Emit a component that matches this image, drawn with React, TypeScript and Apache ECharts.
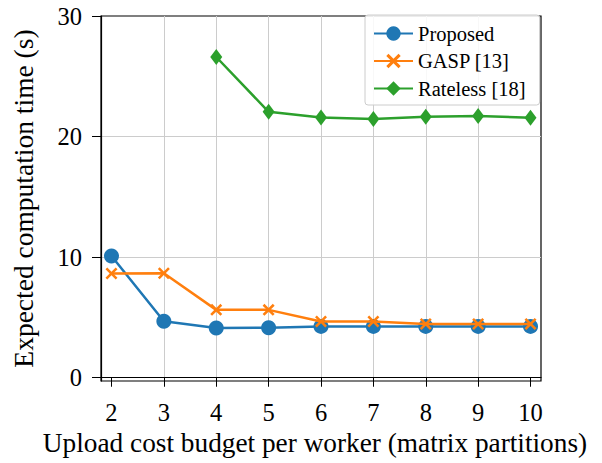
import React, { useEffect, useRef } from "react";
import * as echarts from "echarts";

const xValues = [2, 3, 4, 5, 6, 7, 8, 9, 10];
const proposedValues = [10.1, 4.68, 4.13, 4.15, 4.26, 4.26, 4.26, 4.26, 4.26];
const gaspValues = [8.64, 8.66, 5.63, 5.63, 4.66, 4.66, 4.46, 4.46, 4.46];
const ratelessX = [4, 5, 6, 7, 8, 9, 10];
const ratelessValues = [26.6, 22.05, 21.58, 21.45, 21.64, 21.7, 21.56];
const xTicks = [2, 3, 4, 5, 6, 7, 8, 9, 10];
const yTicks = [0, 10, 20, 30];
const seriesNames = ["Proposed", "GASP [13]", "Rateless [18]"];

const FONT = "'Liberation Serif', 'Times New Roman', serif";
const X_MARK =
  "path://M0,1.5 L1.5,0 L5,3.5 L8.5,0 L10,1.5 L6.5,5 L10,8.5 L8.5,10 L5,6.5 L1.5,10 L0,8.5 L3.5,5 Z";

export default function App() {
  const ref = useRef<HTMLDivElement>(null);
  useEffect(() => {
    if (!ref.current) return;
    const chart = echarts.init(ref.current, undefined, { renderer: "svg" });
    const pair = (xs: number[], ys: number[]) => xs.map((x, i) => [x, ys[i]]);
    chart.setOption({
      animation: false,
      textStyle: { fontFamily: FONT },
      grid: {
        left: 101,
        right: 61,
        top: 16,
        bottom: 82,
        show: true,
        borderColor: "#000",
        borderWidth: 1.2,
        backgroundColor: "transparent",
      },
      legend: {
        orient: "vertical",
        left: 365,
        top: 15,
        padding: [8, 14, 6, 8],
        itemWidth: 39,
        itemHeight: 18,
        itemGap: 6.5,
        itemTextGap: 16,
        backgroundColor: "rgba(255,255,255,0.85)",
        borderColor: "#cccccc",
        borderWidth: 1,
        borderRadius: 3,
        textStyle: { fontFamily: FONT, fontSize: 20.5, color: "#000" },
        data: seriesNames,
      },
      xAxis: {
        type: "value",
        min: 1.8,
        max: 10.2,
        splitNumber: 8,
        name: "Upload cost budget per worker (matrix partitions)",
        nameLocation: "middle",
        nameGap: 47,
        nameTextStyle: {
          fontFamily: FONT,
          fontSize: 27.3,
          color: "#000",
          padding: [0, 12, 0, 0],
        },
        axisLine: { show: true, lineStyle: { color: "#000", width: 1.2 } },
        axisTick: {
          show: true,
          inside: false,
          length: 9,
          lineStyle: { color: "#000", width: 1 },
          customValues: xTicks,
        },
        axisLabel: {
          fontFamily: FONT,
          fontSize: 24.5,
          color: "#000",
          margin: 19,
          customValues: xTicks,
        },
        splitLine: {
          show: true,
          showMinLine: false,
          showMaxLine: false,
          lineStyle: { color: "#cccccc", width: 1 },
        },
      },
      yAxis: {
        type: "value",
        min: -0.27,
        max: 30,
        splitNumber: 3,
        name: "Expected computation time (s)",
        nameLocation: "middle",
        nameGap: 64,
        nameTextStyle: { fontFamily: FONT, fontSize: 27.5, color: "#000" },
        axisLine: { show: true, lineStyle: { color: "#000", width: 1.2 } },
        axisTick: {
          show: true,
          inside: false,
          length: 9,
          lineStyle: { color: "#000", width: 1 },
          customValues: yTicks,
        },
        axisLabel: {
          fontFamily: FONT,
          fontSize: 24.5,
          color: "#000",
          margin: 19,
          customValues: yTicks,
        },
        splitLine: {
          show: true,
          showMinLine: false,
          showMaxLine: false,
          lineStyle: { color: "#cccccc", width: 1 },
        },
      },
      series: [
        {
          name: seriesNames[0],
          type: "line",
          data: pair(xValues, proposedValues),
          symbol: "circle",
          symbolSize: 15,
          color: "#1f77b4",
          lineStyle: { width: 2.5, color: "#1f77b4" },
          itemStyle: { color: "#1f77b4" },
          z: 2,
        },
        {
          name: seriesNames[1],
          type: "line",
          data: pair(xValues, gaspValues),
          symbol: X_MARK,
          symbolSize: 12,
          color: "#ff7f0e",
          lineStyle: { width: 2.5, color: "#ff7f0e" },
          itemStyle: { color: "#ff7f0e" },
          z: 3,
        },
        {
          name: seriesNames[2],
          type: "line",
          data: pair(ratelessX, ratelessValues),
          symbol: "diamond",
          symbolSize: [12, 16],
          color: "#2ca02c",
          lineStyle: { width: 2.5, color: "#2ca02c" },
          itemStyle: { color: "#2ca02c" },
          z: 4,
        },
      ],
    });
    return () => chart.dispose();
  }, []);
  return (
    <div
      ref={ref}
      style={{ position: "absolute", left: 0, top: 0, width: 602, height: 463 }}
    />
  );
}
